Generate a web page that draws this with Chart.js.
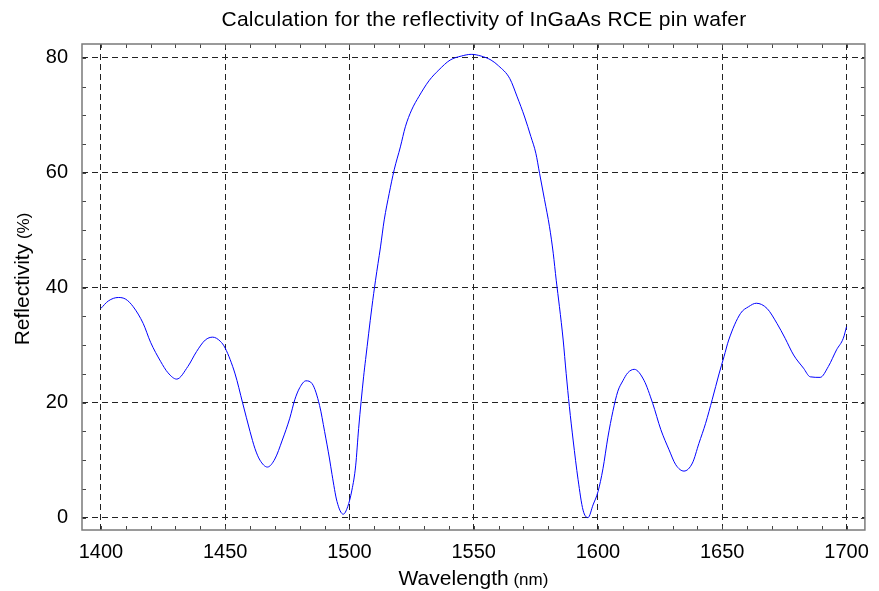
<!DOCTYPE html>
<html>
<head>
<meta charset="utf-8">
<script src="https://cdn.jsdelivr.net/npm/chart.js@4/dist/chart.umd.min.js"></script>
<style>
  html, body { margin: 0; padding: 0; background: #ffffff; }
  #wrap { width: 879px; height: 591px; }
</style>
</head>
<body>
<div id="wrap"><canvas id="chart" width="879" height="591"></canvas></div>
<script>
// Calculated reflectivity spectrum of the InGaAs RCE pin wafer
const wavelengths = [
  1400, 1403, 1407, 1410, 1413, 1417, 1420, 1424, 1427, 1430.5,
  1435, 1438.5, 1442, 1445, 1448, 1450, 1454, 1457, 1460, 1462,
  1464, 1467, 1470, 1473, 1476, 1478, 1480, 1482.5, 1485, 1488,
  1490, 1492, 1493, 1495, 1497.5, 1499.3, 1501, 1502.5, 1503.7, 1505.7,
  1506.5, 1509, 1510.5, 1512.5, 1514, 1516, 1518, 1520.5, 1522.5, 1525,
  1528, 1532, 1536, 1540.5, 1545, 1549, 1553, 1557, 1560, 1564.5,
  1567.5, 1570.5, 1573, 1575, 1576.5, 1578.5, 1580.5, 1582, 1583.2, 1584.5,
  1586, 1587.2, 1588.5, 1590, 1592, 1594, 1596, 1598, 1600, 1602,
  1604, 1606, 1608, 1610, 1612, 1614.6, 1618.5, 1622, 1625.3, 1628.6,
  1631.3, 1634.6, 1638, 1640.6, 1643.3, 1646, 1648.7, 1650.7, 1652.6, 1657.3,
  1660.6, 1663.7, 1668, 1672, 1675.3, 1678.7, 1682.7, 1685.4, 1689.4, 1692.7,
  1696, 1698.7, 1700
];
const reflectivity = [
  36.4, 37.7, 38.3, 38.0, 36.7, 33.8, 30.5, 27.2, 25.2, 24.1,
  26.3, 28.9, 30.9, 31.4, 30.7, 29.5, 25.0, 20.0, 15.0, 12.0,
  10.0, 8.8, 10.2, 13.5, 17.3, 20.5, 22.6, 23.8, 23.3, 19.5,
  15.0, 10.2, 7.5, 2.8, 0.6, 1.9, 4.8, 9.0, 15.5, 24.5,
  27.5, 36.5, 41.3, 47.1, 51.8, 56.4, 60.5, 64.5, 68.0, 70.9,
  73.3, 76.0, 77.9, 79.6, 80.3, 80.6, 80.3, 79.6, 78.6, 76.4,
  73.2, 69.7, 66.3, 63.4, 59.9, 55.3, 50.6, 46.0, 41.3, 36.7,
  30.9, 25.1, 19.3, 13.5, 6.6, 1.3, 0.0, 2.2, 4.5, 8.5,
  14.0, 18.5, 22.0, 23.8, 25.2, 25.8, 23.9, 19.9, 15.3, 11.8,
  9.2, 8.1, 9.5, 12.9, 16.4, 20.6, 25.0, 28.0, 30.9, 35.5,
  36.7, 37.3, 36.4, 33.8, 31.2, 28.3, 26.0, 24.5, 24.4, 26.3,
  29.2, 31.2, 33.2
];
const xTickValues = [1400, 1450, 1500, 1550, 1600, 1650, 1700];
const yTickValues = [0, 20, 40, 60, 80];
const chartTitle = 'Calculation for the reflectivity of InGaAs RCE pin wafer';
const xTitleParts = ['Wavelength', ' (nm)'];
const yTitleParts = ['Reflectivity', ' (%)'];

const FONT = '"Liberation Sans", Arial, sans-serif';

// Frame, inward minor ticks, and the titles (drawn with mixed sizes)
const decorations = {
  id: 'decorations',
  afterDraw(chart) {
    const { ctx, chartArea: a, scales } = chart;
    const xs = scales.x, ys = scales.y;
    ctx.save();

    // inward ticks on all four sides
    ctx.strokeStyle = '#444';
    ctx.lineWidth = 1;
    const tl = 4;
    ctx.beginPath();
    for (let v = 1400; v <= 1700; v += 10) {
      const px = Math.round(xs.getPixelForValue(v)) + 0.5;
      ctx.moveTo(px, a.bottom); ctx.lineTo(px, a.bottom - tl);
      ctx.moveTo(px, a.top); ctx.lineTo(px, a.top + tl);
    }
    for (let v = 0; v <= 80; v += 5) {
      const py = Math.round(ys.getPixelForValue(v)) + 0.5;
      ctx.moveTo(a.left, py); ctx.lineTo(a.left + tl, py);
      ctx.moveTo(a.right, py); ctx.lineTo(a.right - tl, py);
    }
    ctx.stroke();

    // plot frame
    ctx.strokeStyle = '#7a7a7a';
    ctx.lineWidth = 1.5;
    ctx.strokeRect(a.left, a.top, a.right - a.left, a.bottom - a.top);

    ctx.fillStyle = '#000';
    ctx.textBaseline = 'alphabetic';

    // chart title, set tight like the original typesetting
    ctx.font = '21px ' + FONT;
    ctx.textAlign = 'center';
    const targetW = 525;
    const w0 = ctx.measureText(chartTitle).width;
    if ('letterSpacing' in ctx) {
      ctx.letterSpacing = ((targetW - w0) / (chartTitle.length - 1)).toFixed(2) + 'px';
    }
    ctx.fillText(chartTitle, 484, 26);
    if ('letterSpacing' in ctx) ctx.letterSpacing = '0px';

    // axis title helper: main word larger, unit in parentheses smaller
    function mixedText(parts, cx, baseY) {
      ctx.textAlign = 'left';
      ctx.font = '21px ' + FONT;
      const w1 = ctx.measureText(parts[0]).width;
      ctx.font = '17px ' + FONT;
      const w2 = ctx.measureText(parts[1]).width;
      let x = cx - (w1 + w2) / 2;
      ctx.font = '21px ' + FONT;
      ctx.fillText(parts[0], x, baseY);
      ctx.font = '17px ' + FONT;
      ctx.fillText(parts[1], x + w1, baseY);
    }

    mixedText(xTitleParts, (a.left + a.right) / 2, 585);

    ctx.save();
    ctx.translate(29, 279);
    ctx.rotate(-Math.PI / 2);
    mixedText(yTitleParts, 0, 0);
    ctx.restore();

    ctx.restore();
  }
};

new Chart(document.getElementById('chart'), {
  type: 'line',
  data: {
    datasets: [{
      data: wavelengths.map((w, i) => ({ x: w, y: reflectivity[i] })),
      borderColor: '#0000ff',
      borderWidth: 1,
      pointRadius: 0,
      fill: false,
      cubicInterpolationMode: 'monotone'
    }]
  },
  options: {
    responsive: false,
    animation: false,
    devicePixelRatio: 1,
    layout: { padding: { top: 44, right: 10, left: 0, bottom: 0 } },
    plugins: {
      legend: { display: false },
      tooltip: { enabled: false },
      title: { display: false }
    },
    scales: {
      x: {
        type: 'linear',
        min: 1392.4,
        max: 1707.4,
        afterBuildTicks: s => { s.ticks = xTickValues.map(v => ({ value: v })); },
        afterFit: s => { s.height = 61; },
        grid: { color: '#222', lineWidth: 1, drawTicks: false },
        border: { display: false, dash: [6, 4] },
        ticks: {
          color: '#000',
          font: { family: FONT, size: 20 },
          padding: 10,
          maxRotation: 0,
          autoSkip: false,
          callback: v => String(v)
        }
      },
      y: {
        type: 'linear',
        min: -2.15,
        max: 82.4,
        afterBuildTicks: s => { s.ticks = yTickValues.map(v => ({ value: v })); },
        afterFit: s => { s.width = 82; },
        grid: { color: '#222', lineWidth: 1, drawTicks: false },
        border: { display: false, dash: [6, 4] },
        ticks: {
          color: '#000',
          font: { family: FONT, size: 20 },
          padding: 14,
          autoSkip: false,
          callback: v => String(v)
        }
      }
    }
  },
  plugins: [decorations]
});
</script>
</body>
</html>
